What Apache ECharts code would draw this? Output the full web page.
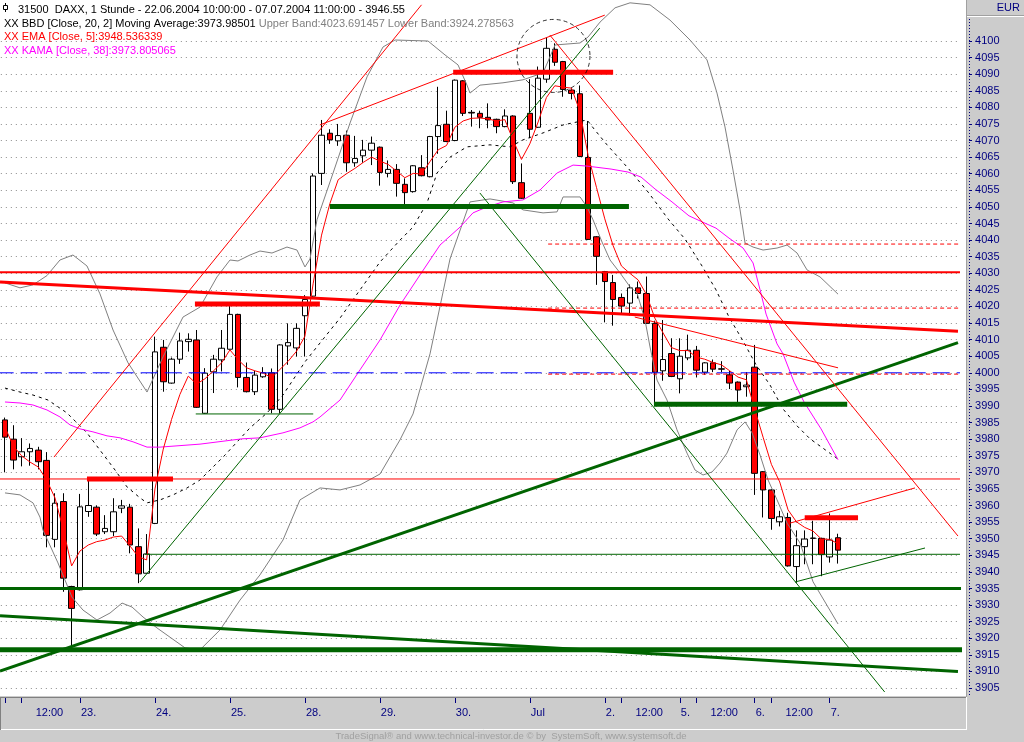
<!DOCTYPE html>
<html><head><meta charset="utf-8">
<script src="https://cdn.jsdelivr.net/npm/echarts@6/dist/echarts.min.js"></script>
<style>html,body{margin:0;padding:0;background:#fff;}#c{width:1024px;height:742px;}</style>
</head><body><div id="c"></div>
<script>
// ---------- data ----------
const days = ['22.06','23.06','24.06','25.06','28.06','29.06','30.06','01.07','02.07','05.07','06.07','07.07'];
const hours = ['10:00','11:00','12:00','13:00','14:00','15:00','16:00','17:00','18:00'];
const openP = [3985.8,3980.0,3974.7,3976.2,3976.7,3973.6,3949.8,3961.2,3935.6,3934.6,
 3958.2,3959.5,3952.1,3952.1,3959.2,3959.5,3947.6,3939.6,3954.6,4007.7,
 3996.9,4004.1,4009.4,4009.9,3987.8,4000.3,4003.9,4007.1,4017.6,3998.6,
 3994.3,3998.8,4000.0,3989.0,4008.1,4007.5,4017.2,4023.1,4060.1,4072.2,
 4069.9,4071.6,4063.3,4065.4,4067.1,4068.0,4060.1,4061.3,4056.8,4054.6,
 4061.8,4059.1,4071.2,4074.9,4070.0,4088.0,4078.5,4078.2,4077.0,4076.4,
 4074.2,4077.4,4057.3,4078.2,4074.0,4088.5,4097.5,4093.8,4085.2,4084.1,
 4064.9,4041.0,4030.5,4027.2,4022.7,4021.0,4025.6,4023.9,4014.9,4000.6,
 4005.8,3998.2,4004.5,4006.8,4000.2,4003.0,4001.2,3999.4,3997.2,3995.8,
 4001.7,3970.2,3964.7,3955.1,3956.4,3941.6,3947.6,3950.2,3950.1,3944.5,
 3950.3];
const closeP = [3980.6,3973.7,3976.2,3977.2,3973.2,3951.0,3960.7,3938.1,3929.0,3959.6,
 3960.0,3951.4,3953.1,3958.1,3959.9,3948.1,3939.4,3945.4,4006.3,3997.3,
 4004.1,4009.6,4010.1,3989.6,3999.9,4004.1,4007.4,4017.6,3998.6,3994.3,
 3999.3,4000.0,3989.0,4008.4,4009.1,4013.4,4022.1,4059.3,4071.6,4070.2,
 4071.5,4063.3,4064.6,4067.1,4069.2,4060.4,4061.3,4057.1,4054.3,4062.4,
 4059.4,4071.2,4074.5,4069.7,4088.2,4078.2,4078.3,4077.0,4076.2,4074.2,
 4077.4,4057.6,4052.6,4073.4,4088.8,4097.8,4093.6,4085.4,4084.2,4065.2,
 4040.2,4035.1,4027.5,4022.1,4020.1,4025.6,4023.9,4014.9,4000.2,4004.0,
 3998.9,4005.0,4006.8,4000.8,4003.0,4001.1,4001.1,3996.9,3994.8,3996.3,
 3969.7,3964.7,3956.1,3956.6,3941.8,3947.9,3949.9,3950.1,3945.2,3949.6,
 3946.55];
const lowP = [3970.0,3970.9,3971.8,3972.0,3970.9,3947.4,3947.4,3934.0,3917.5,3934.4,
 3956.6,3950.8,3951.4,3950.8,3957.7,3945.6,3936.6,3939.4,3954.4,3994.3,
 3996.7,4002.7,4006.4,3989.4,3987.6,3993.9,4000.4,4007.0,3995.6,3994.1,
 3993.3,3998.5,3987.8,3987.9,4002.4,4004.9,4004.9,4022.9,4056.6,4069.0,
 4068.4,4060.6,4062.1,4063.3,4062.6,4056.4,4058.9,4053.1,4050.6,4054.3,
 4059.2,4058.9,4066.0,4069.5,4069.8,4077.4,4074.2,4073.7,4073.7,4072.2,
 4074.0,4056.9,4052.4,4070.7,4073.8,4087.4,4092.5,4083.2,4082.4,4065.0,
 4040.0,4026.5,4015.2,4014.2,4017.8,4017.3,4022.4,4014.7,3990.4,3997.6,
 3998.7,3993.8,4003.8,3998.6,3999.4,4000.2,4000.2,3995.1,3991.0,3992.8,
 3963.2,3956.4,3952.7,3953.7,3941.6,3936.7,3942.3,3942.3,3938.7,3942.8,
 3942.5];
const highP = [3986.5,3984.2,3980.3,3978.7,3977.7,3976.1,3963.7,3963.7,3935.8,3963.5,
 3968.2,3960.0,3957.1,3962.2,3961.7,3960.5,3953.1,3951.4,4010.9,4009.9,
 4004.6,4012.1,4011.9,4012.9,4001.4,4005.4,4012.9,4020.1,4017.8,4003.1,
 4000.6,4001.7,4001.3,4008.6,4014.9,4014.9,4023.4,4060.1,4076.2,4073.4,
 4075.0,4073.0,4071.4,4070.2,4071.2,4068.2,4064.0,4062.9,4058.6,4062.6,
 4065.6,4071.4,4086.2,4079.0,4088.4,4088.2,4079.2,4079.0,4081.2,4076.6,
 4079.4,4077.6,4063.1,4088.5,4092.3,4101.1,4099.3,4094.0,4085.7,4086.6,
 4075.9,4041.2,4030.7,4029.5,4023.9,4026.6,4027.5,4029.0,4015.7,4015.9,
 4010.4,4010.4,4011.5,4008.1,4003.2,4004.0,4003.5,4000.6,3997.4,4000.2,
 4008.4,3970.4,3964.9,3958.4,3957.8,3952.5,3952.5,3955.4,3950.3,3957.6,
 3951.5];
const ema5 = [3983.6,3977.9,3975.0,3973.1,3971.6,3967.7,3962.3,3952.7,3941.8,3946.3,
 3948.1,3949.1,3949.6,3950.5,3950.8,3947.8,3944.6,3943.6,3965.0,3977.0,
 3986.0,3993.5,3999.0,3996.6,3998.2,4000.5,4003.0,4006.9,4003.9,4001.5,
 4000.6,3999.9,3998.5,4001.0,4003.5,4006.5,4011.0,4027.0,4041.5,4051.0,
 4058.2,4060.0,4061.6,4063.4,4065.0,4063.8,4062.8,4060.8,4058.8,4060.1,
 4059.9,4063.6,4067.2,4068.5,4074.0,4075.9,4076.7,4076.8,4076.5,4075.9,
 4076.3,4070.1,4064.3,4069.0,4075.6,4083.0,4086.5,4086.1,4085.8,4078.9,
 4065.5,4055.9,4046.4,4038.3,4032.2,4030.0,4028.0,4023.6,4016.5,4012.0,
 4007.6,4006.7,4006.7,4004.7,4004.1,4003.1,4002.4,4000.6,3998.7,3997.9,
 3989.0,3980.6,3972.4,3967.1,3958.7,3955.1,3953.4,3952.3,3949.9,3949.8,
 3948.5];
// indicator traces: [bar index, value]
const upperBand = [[0,4027.1],[1.8,4025.6],[3.36,4026.5],[5.04,4029.3],[6.6,4034.0],[8.16,4035.5],[9.84,4032.2],[11.4,4023.8],[12.97,4012.9],[14.77,4003.0],[17.05,3994.2],[18.97,4004.8],[21.37,4016.8],[23.41,4019.8],[25.45,4028.9],[27.01,4034.0],[27.97,4033.7],[29.41,4035.5],[30.61,4036.7],[32.05,4036.1],[33.85,4037.9],[35.05,4037.0],[36.01,4031.9],[36.61,4034.3],[37.45,4046.1],[39.38,4060.2],[41.42,4075.3],[43.46,4089.2],[45.38,4098.2],[46.82,4100.3],[50.78,4100.0],[52.82,4095.8],[54.38,4092.8],[55.46,4086.7],[55.82,4084.3],[57.02,4086.7],[59.78,4087.4],[62.18,4088.3],[64.59,4090.4],[66.03,4098.8],[69.03,4099.4],[69.99,4101.2],[71.43,4105.7],[73.23,4110.0],[75.03,4111.5],[77.43,4110.9],[79.83,4106.3],[82.23,4100.3],[84.27,4094.3],[85.47,4084.3],[86.43,4074.1],[87.39,4061.1],[88.24,4049.1],[88.84,4039.1],[89.8,4037.9],[91,4037.0],[92.68,4037.6],[93.88,4038.5],[95.08,4036.1],[96.28,4031.0],[97.84,4028.9],[100,4023.7]];
const lowerBand = [[0,3963.8],[1.8,3963.2],[3.36,3960.8],[4.2,3956.5],[4.56,3952.6],[6.36,3942.7],[8.04,3932.4],[9.36,3928.5],[11.04,3925.5],[12.61,3927.6],[14.05,3930.6],[15.25,3929.4],[16.57,3926.4],[18.25,3923.1],[21.61,3917.1],[23.41,3916.5],[25.81,3922.5],[28.21,3931.5],[30.61,3939.1],[33.37,3949.6],[35.41,3961.7],[37.82,3965.3],[40.22,3964.7],[42.62,3966.2],[45.02,3969.5],[47.42,3979.8],[48.98,3987.6],[51.02,4005.7],[53.42,4034.3],[55.82,4051.5],[58.22,4052.4],[60.98,4051.2],[62.18,4049.1],[64.59,4048.2],[66.27,4048.5],[66.99,4053.0],[69.03,4053.0],[69.87,4050.0],[70.59,4046.1],[71.67,4039.4],[72.63,4034.0],[73.83,4030.1],[75.03,4025.9],[75.87,4024.1],[76.83,4015.9],[77.43,4007.8],[78.27,3997.8],[79.47,3991.8],[80.67,3982.8],[81.87,3975.8],[82.83,3970.7],[83.79,3969.2],[84.87,3970.1],[85.83,3972.8],[86.67,3975.8],[87.88,3982.8],[88.84,3985.2],[89.68,3981.9],[90.64,3975.2],[91.6,3967.7],[92.68,3961.7],[93.88,3954.7],[95.44,3948.7],[97,3937.0],[100,3924.3]];
const movingAvg = [[0,3995.4],[1.8,3994.2],[3.36,3993.3],[5.16,3991.8],[7.44,3987.9],[9.84,3981.9],[11.4,3976.7],[13.21,3970.7],[14.65,3965.6],[16.21,3962.3],[17.05,3960.8],[18.61,3961.7],[20.17,3963.2],[21.85,3965.3],[23.41,3967.7],[26.41,3975.2],[29.41,3983.4],[31.45,3987.9],[33.37,3993.3],[36.01,4003.3],[37.82,4009.0],[40.22,4016.5],[42.62,4025.0],[45.02,4033.4],[47.42,4040.0],[48.98,4043.9],[50.66,4051.2],[51.86,4060.2],[53.42,4065.0],[55.46,4068.1],[58.22,4068.7],[60.62,4068.1],[62.18,4070.2],[64.59,4072.3],[66.99,4074.7],[68.67,4075.6],[69.87,4076.2],[70.71,4073.5],[72.27,4068.7],[74.79,4061.7],[77.19,4054.5],[79.59,4046.4],[81.63,4040.3],[83.67,4032.2],[85.35,4025.0],[86.91,4016.8],[88.6,4009.6],[90.16,4002.4],[91.84,3996.3],[93.4,3989.1],[95.08,3984.0],[96.64,3980.1],[100,3974.0]];
const kama38 = [[0,3991.2],[1.8,3990.9],[3.36,3990.3],[5.04,3988.8],[6.6,3986.7],[7.8,3984.3],[9,3983.1],[10.56,3982.2],[12.24,3981.0],[13.81,3980.4],[15.37,3979.2],[17.05,3977.6],[18.61,3977.6],[23.41,3978.5],[28.45,3980.1],[30.61,3980.4],[33.37,3981.9],[35.41,3983.4],[36.97,3985.2],[37.82,3986.7],[40.22,3991.8],[42.62,4000.9],[45.02,4009.9],[47.42,4020.4],[49.82,4029.5],[52.22,4038.5],[54.62,4043.9],[56.18,4048.2],[57.86,4050.0],[59.78,4051.5],[62.18,4052.1],[64.23,4055.1],[66.27,4060.2],[68.19,4062.6],[69.87,4062.3],[72.75,4061.4],[74.79,4060.5],[76.35,4059.0],[78.03,4055.4],[80.07,4051.5],[82.11,4047.3],[83.67,4045.5],[85.35,4043.6],[86.91,4040.6],[88.6,4037.6],[89.8,4033.1],[90.64,4025.0],[91.36,4017.7],[92.68,4008.7],[93.4,4005.7],[94.72,3997.2],[95.92,3991.2],[97.96,3983.1],[100,3973.8]];
// drawn lines: [bar index, price]
const redLevel4030 = [[-1,4030.3],[116,4030.3]];
const redLevel3968 = [[-1,3968.0],[116,3968.0]];
const greenLevel3935 = [[-1,3935.0],[116,3935.0]];
const greenLevel3916 = [[-1,3916.5],[116,3916.5]];
const blueLevel4000 = [[-1,4000.0],[116,4000.0]];
const redDash1 = [[65.2,4038.8],[116,4038.8]];
const redDash2 = [[65.2,4019.5],[116,4019.5]];
const redDash3 = [[65.2,3999.6],[116,3999.6]];
const redSlopeThick = [[-0.6,4027.4],[114.4,4012.5]];
const greenSlopeUp = [[-0.6,3910.1],[114.4,4009.1]];
const greenSlopeDown = [[-0.6,3926.8],[114.4,3910.0]];
const redBar1 = [[9.84,3968.0],[20.17,3968.0]];
const redBar2 = [[22.8,4020.7],[37.8,4020.7]];
const redBar3 = [[53.8,4090.6],[73.0,4090.6]];
const redBar4 = [[96.0,3956.3],[102.4,3956.3]];
const greenBar1 = [[39.0,4050.1],[74.9,4050.1]];
const greenBar2 = [[77.9,3990.5],[101.1,3990.5]];
const greenThin3945 = [[16.8,3945.3],[116,3945.3]];
const greenThin3988 = [[22.9,3987.6],[37.0,3987.6]];
const greenTrendA = [[16.2,3936.95],[71.4,4103.9]];
const greenTrendB = [[57.0,4054.2],[105.6,3903.8]];
const greenTrendC = [[94.84,3936.95],[110.44,3947.2]];
const redTrendA = [[5.88,3974.6],[50.0,4110.9]];
const redTrendB = [[37.8,4074.7],[72.0,4107.8]];
const redTrendC = [[65.4,4101.8],[114.4,3950.8]];
const redTrendE = [[94.24,3954.7],[109.24,3965.3]];
const redTrendF = [[75.6,4016.8],[100.0,4001.5]];
const circleMark = [[65.84,4095.5]];
const level4000Label = [[2.82,4000]];
// axis labels
const yMin = 3905, yMax = 4100, yStep = 5;
const tickIdx = [0,2,9,18,27,36,45,54,63,72,74,81,83,90,92,99];
const tickText = ['','12:00','23.','24.','25.','28.','29.','30.','Jul','2.','12:00','5.','12:00','6.','12:00','7.'];
const headerTitle = '31500  DAXX, 1 Stunde - 22.06.2004 10:00:00 - 07.07.2004 11:00:00 - 3946.55';
const headerBBD = 'XX BBD [Close, 20, 2] Moving Average:3973.98501';
const headerBands = 'Upper Band:4023.691457 Lower Band:3924.278563';
const headerEMA = 'XX EMA [Close, 5]:3948.536339';
const headerKAMA = 'XX KAMA [Close, 38]:3973.805065';
const footer = 'TradeSignal\u00ae and www.technical-investor.de \u00a9 by  SystemSoft, www.systemsoft.de';

// ---------- build ----------
const NCAT = 115;
const cats = [];
days.forEach(d => hours.forEach(h => cats.push(d + ' ' + h)));
cats.length = 101;
while (cats.length < NCAT) cats.push('pad' + cats.length);
const labelCats = cats.map((c, i) => { const k = tickIdx.indexOf(i); return k >= 0 ? tickText[k] : c; });
const tickSet = new Set(tickIdx);
const candleData = openP.map((o, i) => [o, closeP[i], lowP[i], highP[i]]);

const FONT = 'Liberation Sans, Arial, sans-serif';
const NAVY = '#000080';
const GL = 0.83, GW = 958;
const pxPerPt = 3.318;
const plotBottom = 695;
const vTop = yMax + 41 / pxPerPt;                 // value at y = 0
const vBottom = yMax - (plotBottom - 41) / pxPerPt; // value at y = plotBottom

function seg(data, color, width, type, z) {
  return { type: 'line', xAxisIndex: 1, yAxisIndex: 0, data: data, symbol: 'none', silent: true,
    lineStyle: { color: color, width: width, type: type || 'solid' }, z: z || 4, animation: false };
}

const chart = echarts.init(document.getElementById('c'), null, { renderer: 'canvas' });
chart.setOption({
  backgroundColor: '#ffffff',
  animation: false,
  grid: [
    { left: GL, width: GW, top: 0, height: plotBottom },
    { left: GL, width: GW, top: 41, height: (yMax - yMin) * pxPerPt },
    { left: GL, width: GW, top: 41, height: (yMax - yMin) * pxPerPt }
  ],
  xAxis: [
    { type: 'category', gridIndex: 0, data: cats, boundaryGap: true, show: false },
    { type: 'value', gridIndex: 0, min: -0.5, max: NCAT - 0.5, show: false },
    { type: 'value', gridIndex: 1, min: 0, max: 1, show: false },
    { type: 'category', gridIndex: 2, data: labelCats, boundaryGap: true, position: 'bottom', offset: 10, z: 60,
      axisLine: { show: false },
      axisTick: { show: true, alignWithLabel: true, length: 5, lineStyle: { color: NAVY, width: 1 },
        interval: (i) => tickSet.has(i) },
      axisLabel: { show: true, align: 'left', margin: 9, color: NAVY, fontSize: 11, fontFamily: FONT,
        interval: (i) => tickSet.has(i) && i !== 0,
        formatter: (v) => v === '12:00' ? '{h|12:00}' : '{d|' + v + '}',
        rich: { h: { padding: [0,0,0,14], color: NAVY, fontSize: 11, fontFamily: FONT },
                d: { padding: [0,0,0,1], color: NAVY, fontSize: 11, fontFamily: FONT } } },
      splitLine: { show: false } }
  ],
  yAxis: [
    { type: 'value', gridIndex: 0, min: vBottom, max: vTop, show: false },
    { type: 'value', gridIndex: 1, min: yMin, max: yMax, interval: yStep, position: 'right',
      axisLine: { show: false }, axisTick: { show: false }, axisLabel: { show: false },
      splitLine: { show: true, lineStyle: { color: '#8c8c8c', width: 1, type: [1, 4] } } },
    { type: 'value', gridIndex: 2, min: yMin, max: yMax, interval: yStep, position: 'right', offset: 10.2, z: 60,
      axisLine: { show: false },
      axisTick: { show: true, length: 3, lineStyle: { color: NAVY } },
      axisLabel: { show: true, margin: 6, color: NAVY, fontSize: 11, fontFamily: FONT, formatter: (v) => String(v) },
      splitLine: { show: false } }
  ],
  series: [
    { type: 'candlestick', xAxisIndex: 0, yAxisIndex: 0, data: candleData, barWidth: 6, z: 2, silent: true,
      itemStyle: { color: '#ffffff', color0: '#ff0000', borderColor: '#000000', borderColor0: '#000000', borderWidth: 1 } },
    seg(upperBand, '#808080', 1, 'solid', 3),
    seg(lowerBand, '#808080', 1, 'solid', 3),
    seg(movingAvg, '#000000', 1, [3, 4], 3),
    seg(kama38, '#ff00ff', 1, 'solid', 3),
    { type: 'line', xAxisIndex: 0, yAxisIndex: 0, data: ema5, symbol: 'none', silent: true,
      lineStyle: { color: '#ff0000', width: 1 }, z: 3 },
    seg(blueLevel4000, '#0000ff', 1, [17, 7]),
    seg(redDash1, '#ff0000', 1, [4, 3]),
    seg(redDash2, '#ff0000', 1, [4, 3]),
    seg(redDash3, '#ff0000', 1, [4, 3]),
    seg(redLevel4030, '#ff0000', 2),
    seg(redLevel3968, '#ff0000', 1),
    seg(greenLevel3935, '#006400', 3),
    seg(greenLevel3916, '#006400', 5),
    seg(redSlopeThick, '#ff0000', 3),
    seg(greenSlopeUp, '#006400', 3),
    seg(greenSlopeDown, '#006400', 3),
    seg(redBar1, '#ff0000', 5),
    seg(redBar2, '#ff0000', 5),
    seg(redBar3, '#ff0000', 5),
    seg(redBar4, '#ff0000', 5),
    seg(greenBar1, '#006400', 5),
    seg(greenBar2, '#006400', 5),
    seg(greenThin3945, '#006400', 1),
    seg(greenThin3988, '#006400', 1),
    seg(greenTrendA, '#006400', 1),
    seg(greenTrendB, '#006400', 1),
    seg(greenTrendC, '#006400', 1),
    seg(redTrendA, '#ff0000', 1),
    seg(redTrendB, '#ff0000', 1),
    seg(redTrendC, '#ff0000', 1),
    seg(redTrendE, '#ff0000', 1),
    seg(redTrendF, '#ff0000', 1),
    { type: 'scatter', xAxisIndex: 1, yAxisIndex: 0, data: circleMark, symbol: 'circle', symbolSize: 73, silent: true, z: 5,
      itemStyle: { color: 'rgba(0,0,0,0)', borderColor: '#000000', borderWidth: 1, borderType: [4, 3] } },
    { type: 'scatter', xAxisIndex: 1, yAxisIndex: 0, data: level4000Label, symbol: 'none', silent: true, z: 5,
      label: { show: true, position: 'top', distance: 1, formatter: '4000', color: '#0000ff', fontSize: 11, fontFamily: FONT } }
  ],
  graphic: [
    { type: 'rect', z: 50, shape: { x: 966, y: 0, width: 58, height: 742 }, style: { fill: '#cccccc' } },
    { type: 'rect', z: 50, shape: { x: 0, y: 696, width: 966, height: 46 }, style: { fill: '#cccccc' } },
    { type: 'line', z: 51, shape: { x1: 0, y1: 697.5, x2: 966, y2: 697.5 }, style: { stroke: '#808080', lineWidth: 1 } },
    { type: 'line', z: 51, shape: { x1: 0, y1: 729.5, x2: 967, y2: 729.5 }, style: { stroke: '#ffffff', lineWidth: 1 } },
    { type: 'line', z: 51, shape: { x1: 966.5, y1: 697, x2: 966.5, y2: 730 }, style: { stroke: '#ffffff', lineWidth: 1 } },
    { type: 'line', z: 51, shape: { x1: 966.5, y1: 0, x2: 966.5, y2: 697 }, style: { stroke: '#a0a0a0', lineWidth: 1 } },
    { type: 'line', z: 51, shape: { x1: 0.5, y1: 697, x2: 0.5, y2: 730 }, style: { stroke: '#808080', lineWidth: 1 } },
    { type: 'line', z: 51, shape: { x1: 967, y1: 15.5, x2: 1024, y2: 15.5 }, style: { stroke: '#a0a0a0', lineWidth: 1 } },
    { type: 'line', z: 51, shape: { x1: 967, y1: 16.5, x2: 1024, y2: 16.5 }, style: { stroke: '#ffffff', lineWidth: 1 } },
    { type: 'line', z: 51, shape: { x1: 969.5, y1: 19, x2: 969.5, y2: 697 }, style: { stroke: NAVY, lineWidth: 1, lineDash: [1, 2] } },
    { type: 'text', z: 52, style: { x: 1020, y: 8, text: 'EUR', fill: NAVY, font: '11px ' + FONT, textAlign: 'right', textVerticalAlign: 'middle' } },
    { type: 'text', z: 52, style: { x: 511, y: 736, text: footer, fill: '#a0a0a0', font: '9.5px ' + FONT, textAlign: 'center', textVerticalAlign: 'middle' } },
    // header legend
    { type: 'rect', z: 55, shape: { x: 3.5, y: 5.5, width: 4, height: 4 }, style: { fill: '#fff', stroke: '#000', lineWidth: 1 } },
    { type: 'line', z: 55, shape: { x1: 5.5, y1: 3, x2: 5.5, y2: 5.5 }, style: { stroke: '#000', lineWidth: 1 } },
    { type: 'line', z: 55, shape: { x1: 5.5, y1: 9.5, x2: 5.5, y2: 12 }, style: { stroke: '#000', lineWidth: 1 } },
    { type: 'text', z: 55, style: { x: 18, y: 10, text: headerTitle, fill: '#000', font: '11px ' + FONT, textVerticalAlign: 'middle' } },
    { type: 'text', z: 55, style: { x: 4, y: 23.5, text: '{b|' + headerBBD + '} {g|' + headerBands + '}', font: '11px ' + FONT, textVerticalAlign: 'middle',
        rich: { b: { fill: '#000', font: '11px ' + FONT }, g: { fill: '#808080', font: '11px ' + FONT } } } },
    { type: 'text', z: 55, style: { x: 4, y: 37, text: headerEMA, fill: '#ff0000', font: '11px ' + FONT, textVerticalAlign: 'middle' } },
    { type: 'text', z: 55, style: { x: 4, y: 51, text: headerKAMA, fill: '#ff00ff', font: '11px ' + FONT, textVerticalAlign: 'middle' } }
  ]
});
</script>
</body></html>
